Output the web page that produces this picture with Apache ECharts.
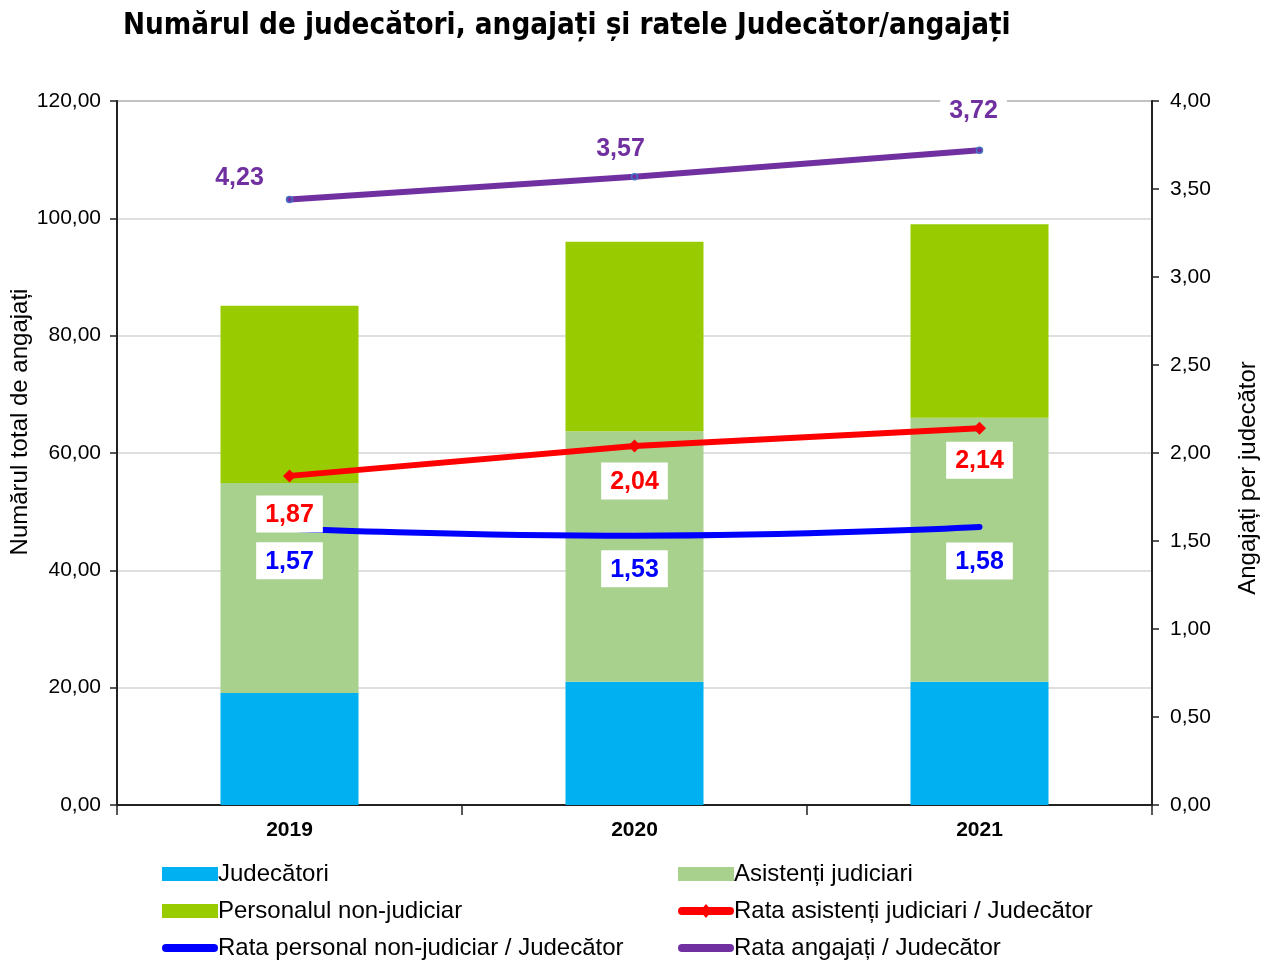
<!DOCTYPE html>
<html>
<head>
<meta charset="utf-8">
<script src="https://cdn.jsdelivr.net/npm/echarts@6/dist/echarts.min.js"></script>
<style>
  html, body { margin: 0; padding: 0; background: #ffffff; }
  #chart { width: 1272px; height: 961px; }
</style>
</head>
<body>
<div id="chart"></div>
<script>
// categories
const years = ['2019', '2020', '2021']

// stacked bars (left axis)
const judecatori = [19.1, 21.0, 21.0]
const asistenti = [35.8, 42.7, 45.0]
const nonJudiciar = [30.2, 32.3, 33.0]

// ratio lines (right axis)
const rataAsistenti = [1.87, 2.04, 2.14]
const rataNonJudiciar = [1.57, 1.53, 1.58]
const rataAngajati = [3.44, 3.57, 3.72]
// printed labels of the purple line as shown in the source
const rataAngajatiLabels = ['4,23', '3,57', '3,72']

const leftTicks = { min: 0, max: 120, interval: 20 }
const rightTicks = { min: 0, max: 4, interval: 0.5 }

const fmt = (v) => Number(v).toFixed(2).replace('.', ',')
const FONT = 'Liberation Sans, Arial, sans-serif'

// legend icons, drawn in a 56x14 box
const LINE_ICON = 'path://M4,3 L52,3 A4,4 0 0 1 52,11 L4,11 A4,4 0 0 1 4,3 Z'
const DIAMOND_ICON = LINE_ICON + ' M28,0 L34,7 L28,14 L22,7 Z'

const boxLabel = (color) => ({
  show: true,
  color,
  fontFamily: FONT,
  fontWeight: 'bold',
  fontSize: 25,
  backgroundColor: '#ffffff',
  padding: [7, 9, 5, 9],
  formatter: (p) => fmt(p.value)
})

const legendItem = (name, left, top, icon, color) => ({
  left,
  top,
  itemWidth: 56,
  itemHeight: 14,
  itemGap: 0,
  selectedMode: false,
  textStyle: { fontFamily: FONT, fontSize: 24, color: '#000000', padding: [0, 0, 0, -5] },
  data: [{ name, icon, itemStyle: { color, borderWidth: 0 }, lineStyle: { opacity: 0 } }]
})

const chart = echarts.init(document.getElementById('chart'))

chart.setOption({
  animation: false,
  backgroundColor: '#ffffff',
  title: {
    text: 'Numărul de judecători, angajați și ratele Judecător/angajați',
    left: 118,
    top: 7,
    textStyle: { fontFamily: 'DejaVu Sans Condensed', fontWeight: 'bold', fontSize: 29.3, color: '#000000' }
  },
  grid: {
    left: 117,
    right: 120,
    top: 101,
    bottom: 156,
    outerBoundsMode: 'none',
    show: true,
    borderColor: '#8c8c8c',
    borderWidth: 2,
    backgroundColor: 'transparent'
  },
  legend: [
    legendItem('Judecători', 157, 857, 'rect', '#00B0F0'),
    legendItem('Personalul non-judiciar', 157, 894, 'rect', '#99CC00'),
    legendItem('Rata personal non-judiciar / Judecător', 157, 931, LINE_ICON, '#0000FF'),
    legendItem('Asistenți judiciari', 673, 857, 'rect', '#A9D18E'),
    legendItem('Rata asistenți judiciari / Judecător', 673, 894, DIAMOND_ICON, '#FF0000'),
    legendItem('Rata angajați / Judecător', 673, 931, LINE_ICON, '#7030A0')
  ],
  xAxis: {
    type: 'category',
    data: years,
    boundaryGap: true,
    axisLine: { lineStyle: { color: '#222222', width: 2 } },
    axisTick: { show: true, length: 10, inside: false, lineStyle: { color: '#222222', width: 1.5 } },
    axisLabel: { fontFamily: FONT, fontWeight: 'bold', fontSize: 21, color: '#000000', margin: 15 }
  },
  yAxis: [
    {
      type: 'value',
      ...leftTicks,
      position: 'left',
      name: 'Numărul total de angajați',
      nameLocation: 'middle',
      nameGap: 85,
      nameMoveOverlap: false,
      nameRotate: 90,
      nameTextStyle: { fontFamily: FONT, fontSize: 24, color: '#000000', padding: [0, 0, 0, 62] },
      axisLine: { show: true, lineStyle: { color: '#222222', width: 2 } },
      axisTick: { show: true, length: 7, lineStyle: { color: '#222222', width: 1.5 } },
      axisLabel: { fontFamily: FONT, fontSize: 21, color: '#000000', margin: 16, formatter: fmt },
      splitLine: { show: true, lineStyle: { color: '#d4d4d4', width: 1.5 } }
    },
    {
      type: 'value',
      ...rightTicks,
      position: 'right',
      name: 'Angajați per judecător',
      nameLocation: 'middle',
      nameGap: 84,
      nameMoveOverlap: false,
      nameRotate: 90,
      nameTextStyle: { fontFamily: FONT, fontSize: 24, color: '#000000', padding: [0, 50, 0, 0] },
      axisLine: { show: true, lineStyle: { color: '#222222', width: 2 } },
      axisTick: { show: true, length: 7, lineStyle: { color: '#222222', width: 1.5 } },
      axisLabel: { fontFamily: FONT, fontSize: 21, color: '#000000', margin: 18, formatter: fmt },
      splitLine: { show: false }
    }
  ],
  series: [
    {
      name: 'Judecători',
      type: 'bar',
      stack: 'total',
      barWidth: '40%',
      itemStyle: { color: '#00B0F0' },
      data: judecatori
    },
    {
      name: 'Asistenți judiciari',
      type: 'bar',
      stack: 'total',
      barWidth: '40%',
      itemStyle: { color: '#A9D18E' },
      data: asistenti
    },
    {
      name: 'Personalul non-judiciar',
      type: 'bar',
      stack: 'total',
      barWidth: '40%',
      itemStyle: { color: '#99CC00' },
      data: nonJudiciar
    },
    {
      name: 'Rata asistenți judiciari / Judecător',
      type: 'line',
      yAxisIndex: 1,
      symbol: 'diamond',
      symbolSize: 13,
      itemStyle: { color: '#FF0000' },
      lineStyle: { color: '#FF0000', width: 6, cap: 'round' },
      label: { ...boxLabel('#FF0000'), position: 'bottom', distance: 13 },
      data: rataAsistenti.map((v, i) => ({
        value: v,
        label: { offset: [0, [0, -3, -6][i]] }
      }))
    },
    {
      name: 'Rata personal non-judiciar / Judecător',
      type: 'line',
      yAxisIndex: 1,
      smooth: true,
      symbol: 'circle',
      symbolSize: 1,
      itemStyle: { color: '#0000FF' },
      lineStyle: { color: '#0000FF', width: 6, cap: 'round' },
      label: { ...boxLabel('#0000FF'), position: 'bottom', distance: 12 },
      data: rataNonJudiciar.map((v, i) => ({
        value: v,
        label: { offset: [0, [1, 2, 3][i]] }
      }))
    },
    {
      name: 'Rata angajați / Judecător',
      type: 'line',
      yAxisIndex: 1,
      symbol: 'circle',
      symbolSize: 6,
      itemStyle: { color: '#7030A0', borderColor: '#4472C4', borderWidth: 1.5 },
      lineStyle: { color: '#7030A0', width: 6, cap: 'round' },
      label: {
        ...boxLabel('#7030A0'),
        position: 'top',
        distance: 8,
        formatter: (p) => rataAngajatiLabels[p.dataIndex]
      },
      data: rataAngajati.map((v, i) => ({
        value: v,
        label: { offset: [[-50, -14, -6][i], [8, 2, -10][i]] }
      }))
    }
  ]
})
</script>
</body>
</html>
